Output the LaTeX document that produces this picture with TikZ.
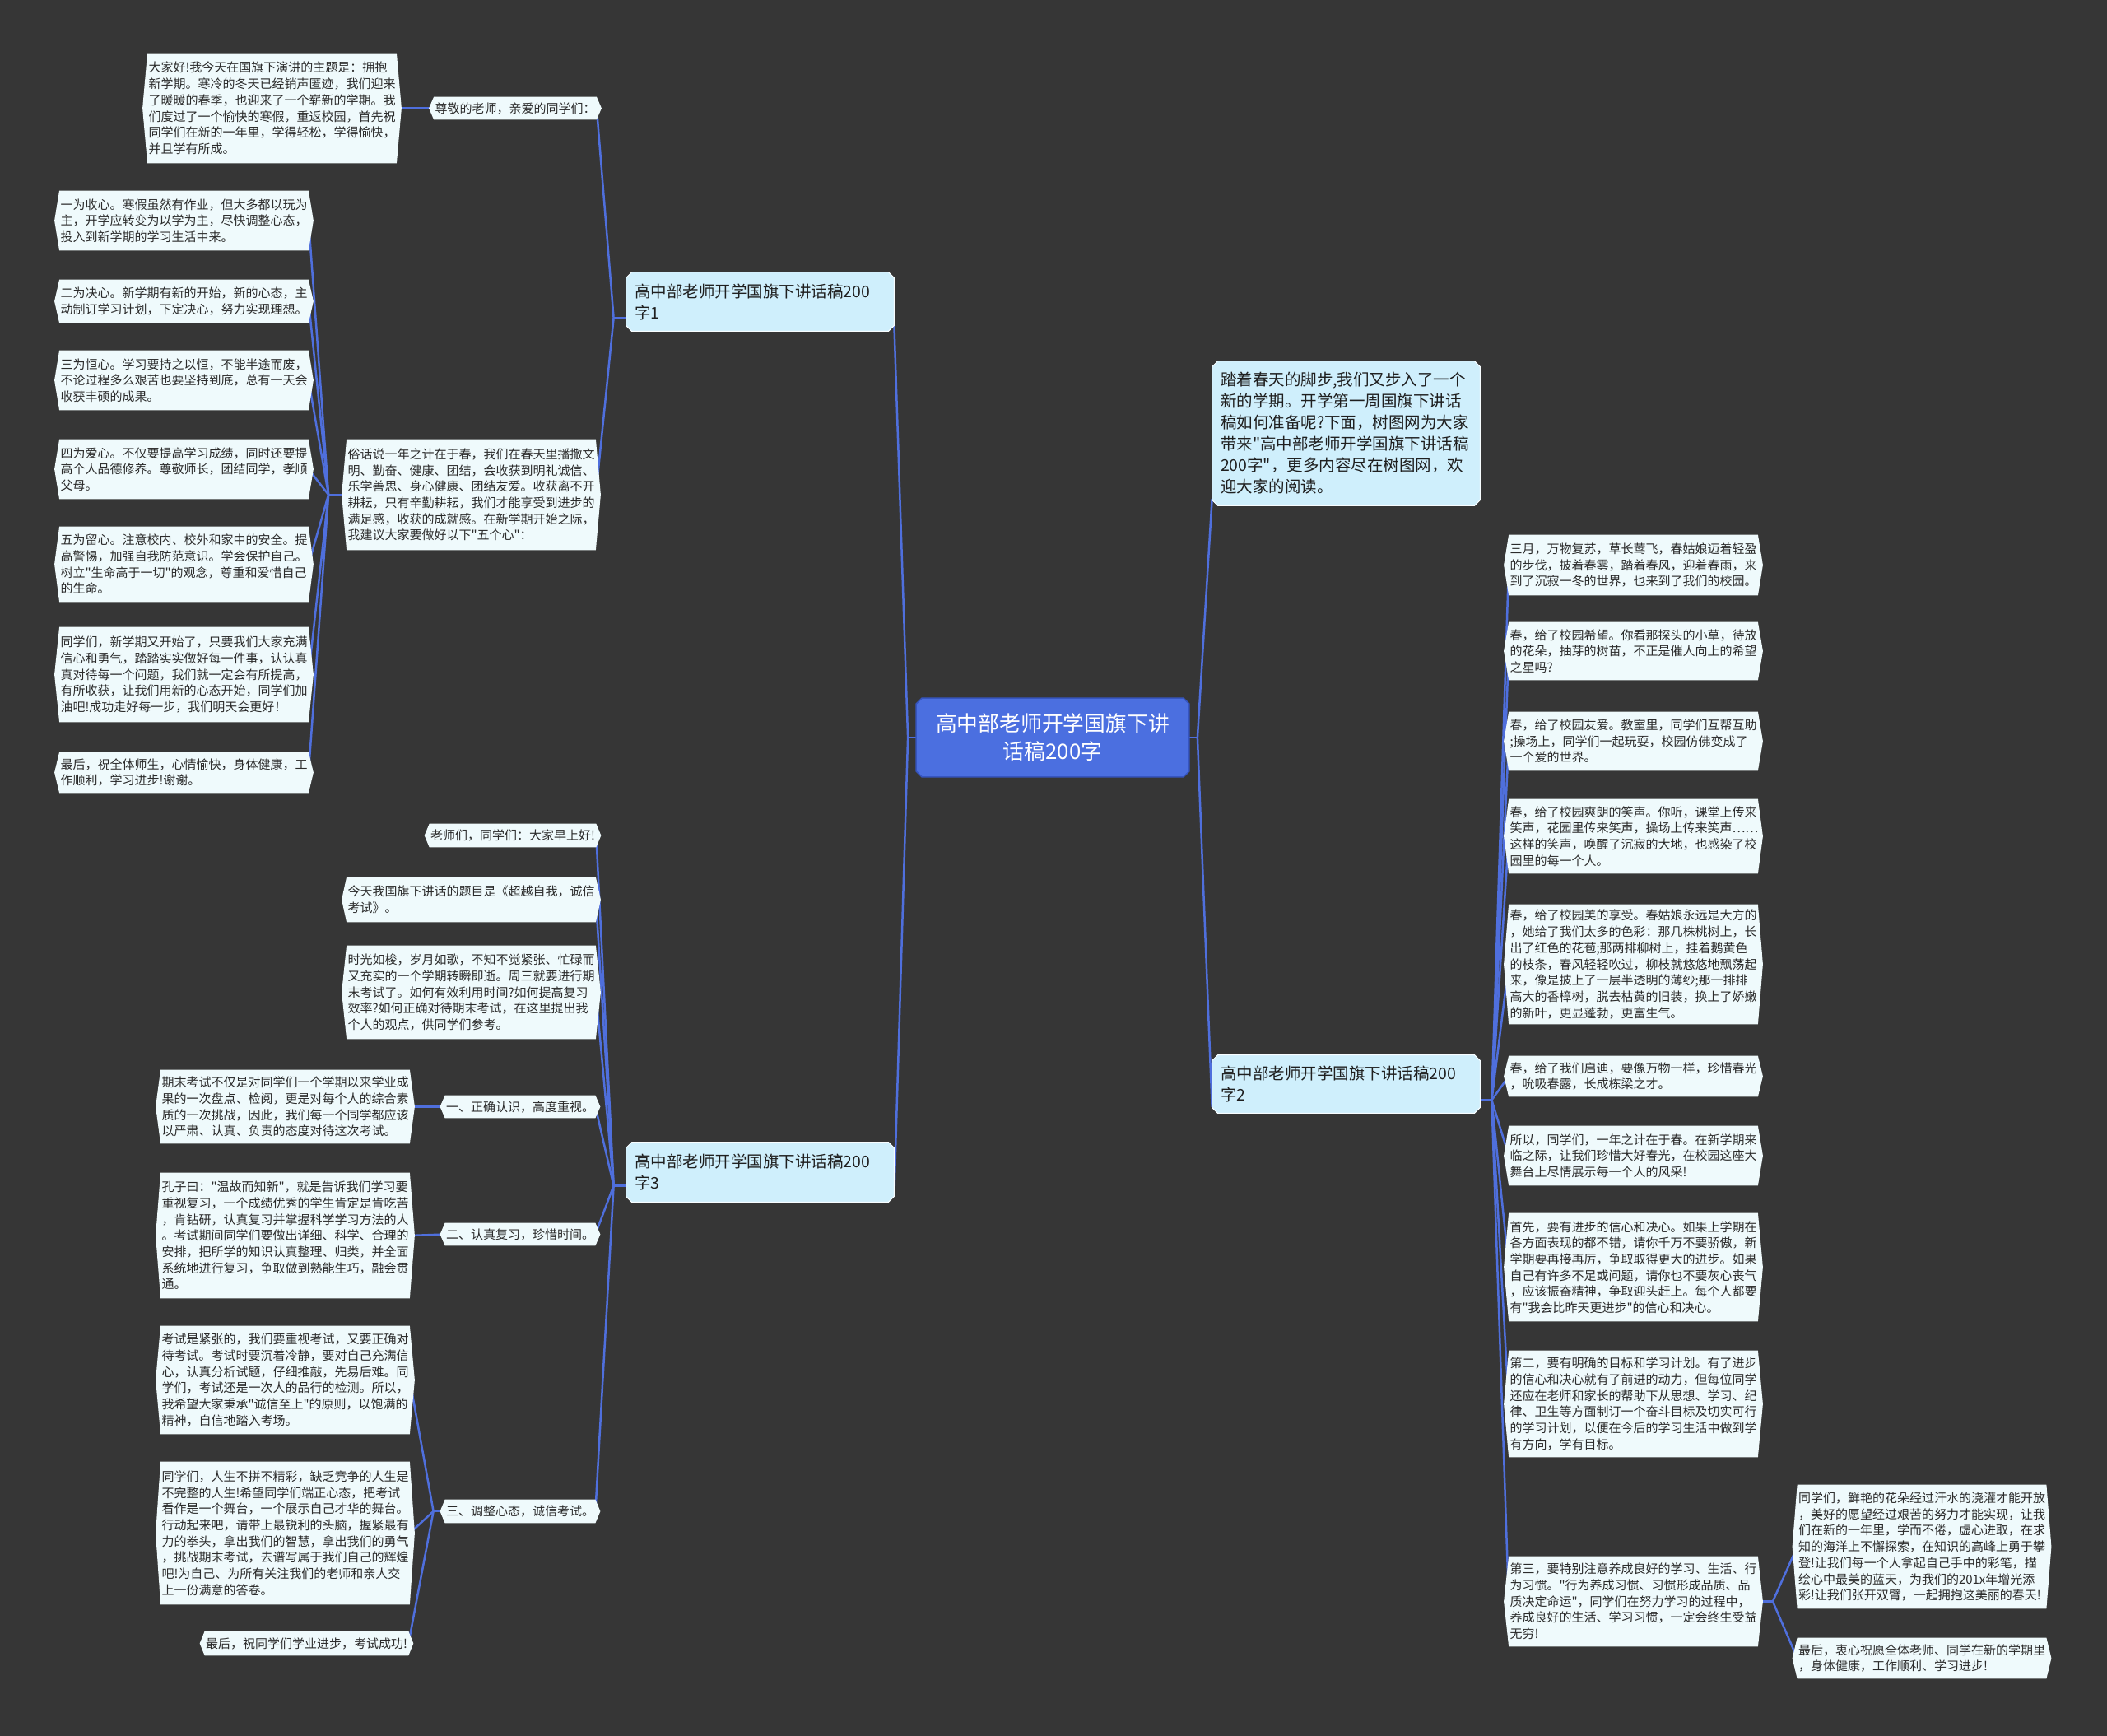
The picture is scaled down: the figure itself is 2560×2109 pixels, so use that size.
\documentclass[tikz,border=0pt]{standalone}
\usepackage{fontspec}
\newfontfamily\cjk{Noto Sans CJK SC}
\usetikzlibrary{calc}
\pgfdeclarelayer{back}\pgfdeclarelayer{lines}\pgfdeclarelayer{shapes}
\pgfsetlayers{back,lines,shapes,main}
\definecolor{bgc}{HTML}{363636}
\definecolor{leaffill}{HTML}{EFFAFC}
\definecolor{leaftext}{HTML}{2B2B2B}
\definecolor{branchfill}{HTML}{CFEFFC}
\definecolor{branchtext}{HTML}{1F1F1F}
\definecolor{rootfill}{HTML}{4B6FE0}
\definecolor{rootline}{HTML}{3655C0}
\definecolor{connc}{HTML}{4F6FDD}
\newcommand\leaffont{\cjk\fontsize{7.5pt}{9.85pt}\selectfont}
\newcommand\branchfont{\cjk\fontsize{9.75pt}{13pt}\selectfont}
\newcommand\rootfont{\cjk\fontsize{12.9pt}{17pt}\selectfont}
\newcommand\leafbg[1]{\fill[leaffill] (#1.north west) -- (#1.north east) -- ($(#1.east)+(6,0)$) -- (#1.south east) -- (#1.south west) -- ($(#1.west)+(-6,0)$) -- cycle;}
\newcommand\chamfbg[2]{\filldraw[#2] ($(#1.north west)+(7,0)$) -- ($(#1.north east)+(-7,0)$) -- ($(#1.north east)+(0,7)$) -- ($(#1.south east)+(0,-7)$) -- ($(#1.south east)+(-7,0)$) -- ($(#1.south west)+(7,0)$) -- ($(#1.south west)+(0,-7)$) -- ($(#1.north west)+(0,7)$) -- cycle;}
\tikzset{
  leaf/.style={font=\leaffont, text=leaftext, inner xsep=0.5pt, inner ysep=0pt, align=left},
  leafw/.style={leaf, text width=150pt},
  branch/.style={font=\branchfont, text=branchtext, inner xsep=5pt, inner ysep=0pt, text width=152.5pt, align=left},
  rootnode/.style={font=\rootfont, text=white, align=center, inner sep=0pt, minimum width=165.5pt, minimum height=47.5pt},
  conn/.style={draw=connc, line width=1.25pt, line join=round, line cap=round}
}
\begin{document}
\begin{tikzpicture}[x=0.5pt,y=-0.5pt]
\useasboundingbox (0,0) rectangle (2560,2109);
\begin{pgfonlayer}{back}
\fill[bgc] (0,0) rectangle (2560,2109);
\end{pgfonlayer}

% root and branches
\node[rootnode] (C) at (1279,896) {高中部老师开学国旗下讲\\话稿200字};
\node[branch, minimum height=35.5pt] (B1) at (923.5,366.5) {高中部老师开学国旗下讲话稿200\\字1};
\node[branch, minimum height=36pt] (B3) at (923.5,1424) {高中部老师开学国旗下讲话稿200\\字3};
\node[branch, minimum height=87.5pt] (I) at (1635.5,526.5) {踏着春天的脚步,我们又步入了一个\\新的学期。开学第一周国旗下讲话\\稿如何准备呢?下面，树图网为大家\\带来"高中部老师开学国旗下讲话稿\\200字"，更多内容尽在树图网，欢\\迎大家的阅读。};
\node[branch, minimum height=35pt] (B2) at (1635.5,1317) {高中部老师开学国旗下讲话稿200\\字2};

% branch 1
\node[leaf, minimum height=13.5pt] (A1) at (626,131.5) {尊敬的老师，亲爱的同学们：};
\node[leafw, minimum height=66.5pt] (A1a) at (330.5,131.5) {大家好!我今天在国旗下演讲的主题是：拥抱\\新学期。寒冷的冬天已经销声匿迹，我们迎来\\了暖暖的春季，也迎来了一个崭新的学期。我\\们度过了一个愉快的寒假，重返校园，首先祝\\同学们在新的一年里，学得轻松，学得愉快，\\并且学有所成。};
\node[leafw, minimum height=67pt] (A2) at (572.5,601) {俗话说一年之计在于春，我们在春天里播撒文\\明、勤奋、健康、团结，会收获到明礼诚信、\\乐学善思、身心健康、团结友爱。收获离不开\\耕耘，只有辛勤耕耘，我们才能享受到进步的\\满足感，收获的成就感。在新学期开始之际，\\我建议大家要做好以下"五个心"：};
\node[leafw, minimum height=36pt] (L1) at (223.5,268) {一为收心。寒假虽然有作业，但大多都以玩为\\主，开学应转变为以学为主，尽快调整心态，\\投入到新学期的学习生活中来。};
\node[leafw, minimum height=26pt] (L2) at (223.5,366) {二为决心。新学期有新的开始，新的心态，主\\动制订学习计划，下定决心，努力实现理想。};
\node[leafw, minimum height=36pt] (L3) at (223.5,462) {三为恒心。学习要持之以恒，不能半途而废，\\不论过程多么艰苦也要坚持到底，总有一天会\\收获丰硕的成果。};
\node[leafw, minimum height=36pt] (L4) at (223.5,570) {四为爱心。不仅要提高学习成绩，同时还要提\\高个人品德修养。尊敬师长，团结同学，孝顺\\父母。};
\node[leafw, minimum height=45.5pt] (L5) at (223.5,685.5) {五为留心。注意校内、校外和家中的安全。提\\高警惕，加强自我防范意识。学会保护自己。\\树立"生命高于一切"的观念，尊重和爱惜自己\\的生命。};
\node[leafw, minimum height=57.5pt] (L6) at (223.5,819.5) {同学们，新学期又开始了，只要我们大家充满\\信心和勇气，踏踏实实做好每一件事，认认真\\真对待每一个问题，我们就一定会有所提高，\\有所收获，让我们用新的心态开始，同学们加\\油吧!成功走好每一步，我们明天会更好！};
\node[leafw, minimum height=24.5pt] (L7) at (223.5,938.5) {最后，祝全体师生，心情愉快，身体健康，工\\作顺利，学习进步!谢谢。};

% branch 3
\node[leaf, minimum height=14pt] (D1) at (623,1015) {老师们，同学们：大家早上好!};
\node[leafw, minimum height=27pt] (D2) at (572.5,1093) {今天我国旗下讲话的题目是《超越自我，诚信\\考试》。};
\node[leafw, minimum height=56.5pt] (D3) at (572.5,1205.5) {时光如梭，岁月如歌，不知不觉紧张、忙碌而\\又充实的一个学期转瞬即逝。周三就要进行期\\末考试了。如何有效利用时间?如何提高复习\\效率?如何正确对待期末考试，在这里提出我\\个人的观点，供同学们参考。};
\node[leaf, minimum height=13.5pt] (D4) at (632,1344.5) {一、正确认识，高度重视。};
\node[leafw, minimum height=44.5pt] (D4a) at (346.5,1344.5) {期末考试不仅是对同学们一个学期以来学业成\\果的一次盘点、检阅，更是对每个人的综合素\\质的一次挑战，因此，我们每一个同学都应该\\以严肃、认真、负责的态度对待这次考试。};
\node[leaf, minimum height=13.5pt] (D5) at (632,1499.5) {二、认真复习，珍惜时间。};
\node[leafw, minimum height=76pt] (D5a) at (346.5,1501) {孔子曰："温故而知新"，就是告诉我们学习要\\重视复习，一个成绩优秀的学生肯定是肯吃苦\\，肯钻研，认真复习并掌握科学学习方法的人\\。考试期间同学们要做出详细、科学、合理的\\安排，把所学的知识认真整理、归类，并全面\\系统地进行复习，争取做到熟能生巧，融会贯\\通。};
\node[leaf, minimum height=14pt] (D6) at (632,1836) {三、调整心态，诚信考试。};
\node[leafw, minimum height=65.5pt] (D6a) at (346.5,1676.5) {考试是紧张的，我们要重视考试，又要正确对\\待考试。考试时要沉着冷静，要对自己充满信\\心，认真分析试题，仔细推敲，先易后难。同\\学们，考试还是一次人的品行的检测。所以，\\我希望大家秉承"诚信至上"的原则，以饱满的\\精神，自信地踏入考场。};
\node[leafw, minimum height=86.5pt] (D6b) at (346.5,1862.5) {同学们，人生不拼不精彩，缺乏竞争的人生是\\不完整的人生!希望同学们端正心态，把考试\\看作是一个舞台，一个展示自己才华的舞台。\\行动起来吧，请带上最锐利的头脑，握紧最有\\力的拳头，拿出我们的智慧，拿出我们的勇气\\，挑战期末考试，去谱写属于我们自己的辉煌\\吧!为自己、为所有关注我们的老师和亲人交\\上一份满意的答卷。};
\node[leaf, minimum height=14.5pt] (D6c) at (372.5,1996.5) {最后，祝同学们学业进步，考试成功!};

% branch 2
\node[leafw, minimum height=36.5pt] (R1) at (1984.5,686.5) {三月，万物复苏，草长莺飞，春姑娘迈着轻盈\\的步伐，披着春雾，踏着春风，迎着春雨，来\\到了沉寂一冬的世界，也来到了我们的校园。};
\node[leafw, minimum height=35pt] (R2) at (1984.5,791) {春，给了校园希望。你看那探头的小草，待放\\的花朵，抽芽的树苗，不正是催人向上的希望\\之星吗?};
\node[leafw, minimum height=35.5pt] (R3) at (1984.5,900.5) {春，给了校园友爱。教室里，同学们互帮互助\\;操场上，同学们一起玩耍，校园仿佛变成了\\一个爱的世界。};
\node[leafw, minimum height=45pt] (R4) at (1984.5,1016) {春，给了校园爽朗的笑声。你听，课堂上传来\\笑声，花园里传来笑声，操场上传来笑声……\\这样的笑声，唤醒了沉寂的大地，也感染了校\\园里的每一个人。};
\node[leafw, minimum height=72.5pt] (R5) at (1984.5,1171.5) {春，给了校园美的享受。春姑娘永远是大方的\\，她给了我们太多的色彩：那几株桃树上，长\\出了红色的花苞;那两排柳树上，挂着鹅黄色\\的枝条，春风轻轻吹过，柳枝就悠悠地飘荡起\\来，像是披上了一层半透明的薄纱;那一排排\\高大的香樟树，脱去枯黄的旧装，换上了娇嫩\\的新叶，更显蓬勃，更富生气。};
\node[leafw, minimum height=24.5pt] (R6) at (1984.5,1307.5) {春，给了我们启迪，要像万物一样，珍惜春光\\，吮吸春露，长成栋梁之才。};
\node[leafw, minimum height=36pt] (R7) at (1984.5,1404) {所以，同学们，一年之计在于春。在新学期来\\临之际，让我们珍惜大好春光，在校园这座大\\舞台上尽情展示每一个人的风采!};
\node[leafw, minimum height=65.5pt] (R8) at (1984.5,1539.5) {首先，要有进步的信心和决心。如果上学期在\\各方面表现的都不错，请你千万不要骄傲，新\\学期要再接再厉，争取取得更大的进步。如果\\自己有许多不足或问题，请你也不要灰心丧气\\，应该振奋精神，争取迎头赶上。每个人都要\\有"我会比昨天更进步"的信心和决心。};
\node[leafw, minimum height=64.5pt] (R9) at (1984.5,1705.5) {第二，要有明确的目标和学习计划。有了进步\\的信心和决心就有了前进的动力，但每位同学\\还应在老师和家长的帮助下从思想、学习、纪\\律、卫生等方面制订一个奋斗目标及切实可行\\的学习计划，以便在今后的学习生活中做到学\\有方向，学有目标。};
\node[leafw, minimum height=54.5pt] (R10) at (1984.5,1945.5) {第三，要特别注意养成良好的学习、生活、行\\为习惯。"行为养成习惯、习惯形成品质、品\\质决定命运"，同学们在努力学习的过程中，\\养成良好的生活、学习习惯，一定会终生受益\\无穷!};
\node[leafw, minimum height=75pt] (R10a) at (2335,1879) {同学们，鲜艳的花朵经过汗水的浇灌才能开放\\，美好的愿望经过艰苦的努力才能实现，让我\\们在新的一年里，学而不倦，虚心进取，在求\\知的海洋上不懈探索，在知识的高峰上勇于攀\\登!让我们每一个人拿起自己手中的彩笔，描\\绘心中最美的蓝天，为我们的201x年增光添\\彩!让我们张开双臂，一起拥抱这美丽的春天!};
\node[leafw, minimum height=24.5pt] (R10b) at (2335,2014.5) {最后，衷心祝愿全体老师、同学在新的学期里\\，身体健康，工作顺利、学习进步!};

% backgrounds
\begin{pgfonlayer}{shapes}
\foreach \n in {A1,A1a,A2,L1,L2,L3,L4,L5,L6,L7,D1,D2,D3,D4,D4a,D5,D5a,D6,D6a,D6b,D6c,R1,R2,R3,R4,R5,R6,R7,R8,R9,R10,R10a,R10b} {\leafbg{\n}}
\foreach \n in {B1,B2,B3,I} {\chamfbg{\n}{fill=branchfill, draw=white!85!branchfill, line width=0.5pt}}
\chamfbg{C}{fill=rootfill, draw=rootline, line width=0.75pt}
\end{pgfonlayer}

% connectors
\begin{pgfonlayer}{lines}
\draw[conn] (C.west) -- ++(-10,0) coordinate (cl);
\draw[conn] (cl) -- ($(B1.south east)+(0,-8)$);
\draw[conn] (cl) -- ($(B3.south east)+(0,-8)$);
\draw[conn] (C.east) -- ++(10,0) coordinate (cr);
\draw[conn] (cr) -- ($(I.south west)+(0,-8)$);
\draw[conn] (cr) -- ($(B2.south west)+(0,-8)$);
% branch 1
\draw[conn] ($(B1.south west)+(0,-16)$) -- ++(-15,0) coordinate (j1);
\foreach \n in {A1,A2} {\draw[conn] (j1) -- (\n.east);}
\draw[conn] (A1.west) -- (A1a.east);
\draw[conn] (A2.west) -- ++(-22,0) coordinate (j2);
\foreach \n in {L1,L2,L3,L4,L5,L6,L7} {\draw[conn] (j2) -- (\n.east);}
% branch 3
\draw[conn] ($(B3.south west)+(0,-20)$) -- ++(-15,0) coordinate (j3);
\foreach \n in {D1,D2,D3,D4,D5,D6} {\draw[conn] (j3) -- (\n.east);}
\draw[conn] (D4.west) -- (D4a.east);
\draw[conn] (D5.west) -- (D5a.east);
\draw[conn] (D6.west) -- ++(-14,0) coordinate (j6);
\foreach \n in {D6a,D6b,D6c} {\draw[conn] (j6) -- (\n.east);}
% branch 2
\draw[conn] ($(B2.south east)+(0,-16)$) -- ++(14,0) coordinate (jr);
\foreach \n in {R1,R2,R3,R4,R5,R6,R7,R8,R9,R10} {\draw[conn] (jr) -- (\n.west);}
\draw[conn] (R10.east) -- ++(18,0) coordinate (j10);
\foreach \n in {R10a,R10b} {\draw[conn] (j10) -- (\n.west);}
\end{pgfonlayer}
\end{tikzpicture}
\end{document}
